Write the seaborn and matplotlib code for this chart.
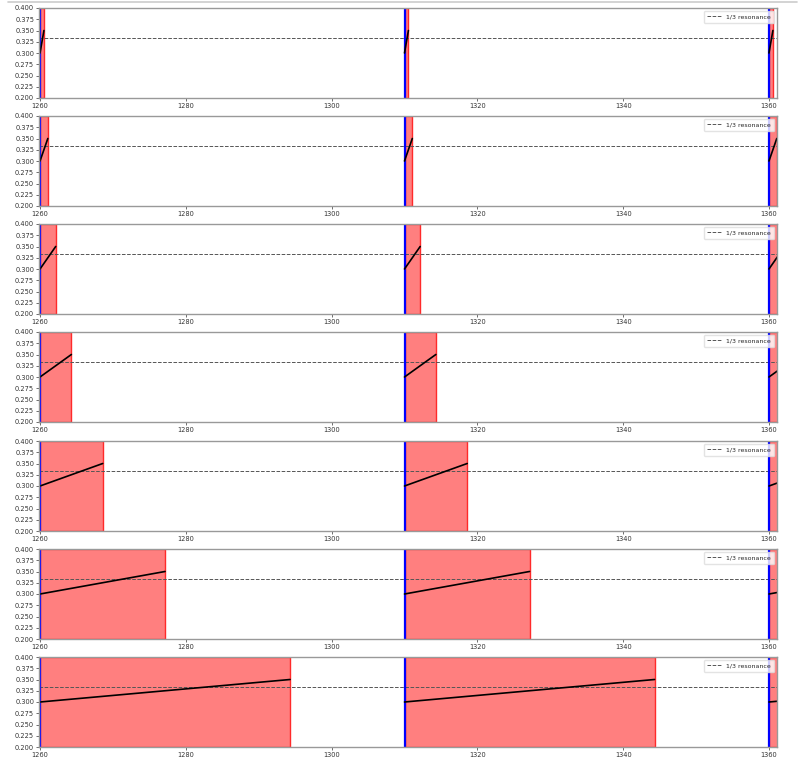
import matplotlib
matplotlib.use("Agg")
import matplotlib.pyplot as plt
from matplotlib.lines import Line2D
import seaborn as sns
import numpy as np
import pandas as pd

# ---- data ----
starts = [1260, 1310, 1360]              # blue markers / segment starts
widths = [0.536, 1.07, 2.15, 4.3, 8.6, 17.15, 34.3]   # red span widths per panel
y_start = 0.30
y_end = 0.35
resonance = 1 / 3
xticks = [1260, 1280, 1300, 1320, 1340, 1360]
yticks = [0.200, 0.225, 0.250, 0.275, 0.300, 0.325, 0.350, 0.375, 0.400]

sns.set_theme(style="white")
plt.rcParams['font.family'] = ['DejaVu Sans']

W, H = 799, 762
fig = plt.figure(figsize=(W / 100, H / 100), dpi=100)

left_px, right_px = 39, 777
tops = [8, 116, 224, 332, 441, 549, 657]
h_px = 90

for i, w in enumerate(widths):
    top = tops[i]
    ax = fig.add_axes([left_px / W, 1 - (top + h_px) / H, (right_px - left_px) / W, h_px / H])
    rows = []
    for k, s in enumerate(starts):
        rows.append({"seg": k, "x": s, "y": y_start})
        rows.append({"seg": k, "x": s + w, "y": y_end})
    df = pd.DataFrame(rows)
    for s in starts:
        ax.axvspan(s, s + w, facecolor=(1, 0, 0, 0.5), edgecolor=(1, 0.1, 0.1, 0.9),
                   lw=1.0, zorder=1)
        ax.axvline(s, color='blue', lw=1.6, zorder=3)
    sns.lineplot(data=df, x="x", y="y", units="seg", estimator=None, color='black',
                 lw=1.2, ax=ax, legend=False, zorder=4)
    ax.axhline(resonance, ls='--', color='#555555', lw=0.7, label='1/3 resonance', zorder=2)
    ax.set_xlim(1259.86, 1361.1)
    ax.set_ylim(0.2, 0.4)
    ax.set_xticks(xticks)
    ax.set_xticklabels([str(t) for t in xticks])
    ax.set_yticks(yticks)
    ax.set_yticklabels([f"{t:.3f}" for t in yticks])
    ax.set_xlabel("")
    ax.set_ylabel("")
    ax.tick_params(axis='both', labelsize=4.8, length=2, width=0.5, colors='#333333', pad=1.5,
                   bottom=True, left=True)
    for sp in ax.spines.values():
        sp.set_color('#999999')
        sp.set_linewidth(1.0)
        sp.set_zorder(6)
    ax.legend(loc='upper right', fontsize=4.5, frameon=True, handlelength=2.2,
              borderpad=0.5, framealpha=0.8, edgecolor='#dddddd')

# thin frame line at the very top (as in the reference screenshot)
fig.add_artist(Line2D([8 / W, 797 / W], [1 - 1.5 / H, 1 - 1.5 / H], color='#cccccc', lw=1.2,
                      transform=fig.transFigure))

fig.savefig("out.png", dpi=100)
